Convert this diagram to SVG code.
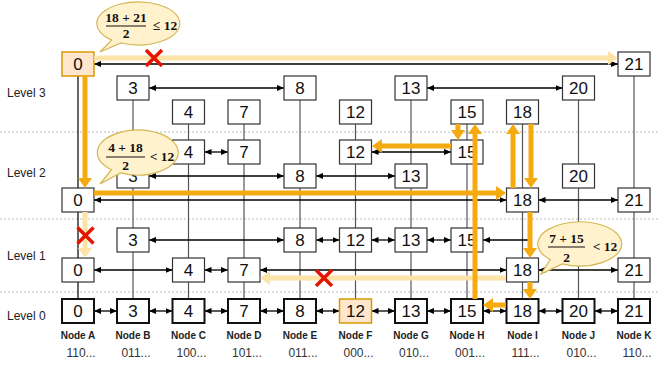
<svg xmlns="http://www.w3.org/2000/svg" width="658" height="368" viewBox="0 0 658 368">
<style>
.bx{fill:#fff;stroke:#333;stroke-width:1.2}
.b0{fill:#fff;stroke:#111;stroke-width:2}
.pk{fill:#ffe6cc;stroke:#d79b00;stroke-width:1.5}
.num{font-family:"Liberation Sans",Arial,sans-serif;font-size:17px;fill:#111;text-anchor:middle}
.lvl{font-family:"Liberation Sans",Arial,sans-serif;font-size:12px;fill:#222}
.nl{font-family:"Liberation Sans",Arial,sans-serif;font-size:10px;font-weight:bold;fill:#222;text-anchor:middle}
.bin{font-family:"Liberation Sans",Arial,sans-serif;font-size:12px;fill:#333;text-anchor:middle}
.col{stroke:#555;stroke-width:1.2;fill:none}
.dash{stroke:#aaa;stroke-width:0.8;stroke-dasharray:2,2}
.ar{stroke:#000;stroke-width:1.3;fill:none;marker-start:url(#ah);marker-end:url(#ah)}
.ar1{stroke:#000;stroke-width:1.3;fill:none;marker-end:url(#ah)}
.os{stroke:#f5ab0f;stroke-width:5;fill:none;marker-end:url(#oa)}
.of{stroke:#fde3a7;stroke-width:5;fill:none;marker-end:url(#of)}
.x{stroke:#e51400;stroke-width:3.5;stroke-linecap:butt}
.co{fill:#fff2cc;stroke:#d6b656;stroke-width:1.2}
.m{font-family:"Liberation Serif","Times New Roman",serif;font-weight:bold;font-size:13.5px;fill:#111;text-anchor:middle}
.bar{stroke:#111;stroke-width:1}
</style>
<defs>
<marker id="ah" viewBox="0 0 8 8" refX="8" refY="4" markerWidth="7" markerHeight="7" orient="auto-start-reverse" markerUnits="userSpaceOnUse"><path d="M0,0.5 L8,4 L0,7.5 z" fill="#000"/></marker>
<marker id="oa" viewBox="0 0 10 14" refX="2" refY="7" markerWidth="10" markerHeight="14" orient="auto" markerUnits="userSpaceOnUse"><path d="M0,0 L10,7 L0,14 z" fill="#f5ab0f"/></marker>
<marker id="of" viewBox="0 0 10 14" refX="2" refY="7" markerWidth="10" markerHeight="14" orient="auto" markerUnits="userSpaceOnUse"><path d="M0,0 L10,7 L0,14 z" fill="#fde3a7"/></marker>
</defs>
<rect width="658" height="368" fill="#fff"/>
<g id="grid">
<line class="dash" x1="0" y1="132" x2="658" y2="132"/>
<line class="dash" x1="0" y1="219" x2="658" y2="219"/>
<line class="dash" x1="0" y1="292" x2="658" y2="292"/>
<text class="lvl" x="7" y="97">Level 3</text>
<text class="lvl" x="7" y="177">Level 2</text>
<text class="lvl" x="7" y="260">Level 1</text>
<text class="lvl" x="7" y="320">Level 0</text>
</g>
<g id="connectors">
<line x1="78" y1="76" x2="78" y2="299" stroke="#000" stroke-width="1.2"/>
<line class="col" x1="133" y1="100" x2="133" y2="299"/>
<line class="col" x1="188.5" y1="124" x2="188.5" y2="299"/>
<line class="col" x1="244" y1="124" x2="244" y2="299"/>
<line class="col" x1="300" y1="100" x2="300" y2="299"/>
<line class="col" x1="355.5" y1="124" x2="355.5" y2="299"/>
<line class="col" x1="411" y1="100" x2="411" y2="299"/>
<line class="col" x1="467" y1="124" x2="467" y2="299"/>
<line class="col" x1="522.5" y1="124" x2="522.5" y2="299"/>
<line class="col" x1="578.5" y1="100" x2="578.5" y2="299"/>
<line class="col" x1="634" y1="76" x2="634" y2="299"/>
<line class="ar" x1="94" y1="64" x2="618" y2="64"/>
<line class="ar" x1="149" y1="88" x2="284" y2="88"/>
<line class="ar" x1="427" y1="88" x2="562.5" y2="88"/>
<line class="ar" x1="204.5" y1="152" x2="228" y2="152"/>
<line class="ar" x1="371.5" y1="152" x2="451" y2="152"/>
<line class="ar" x1="149" y1="176" x2="284" y2="176"/>
<line class="ar" x1="316" y1="176" x2="395" y2="176"/>
<line class="ar" x1="94" y1="200" x2="506.5" y2="200"/>
<line class="ar" x1="538.5" y1="200" x2="618" y2="200"/>
<line class="ar" x1="149" y1="240" x2="284" y2="240"/>
<line class="ar" x1="316" y1="240" x2="339.5" y2="240"/>
<line class="ar" x1="371.5" y1="240" x2="395" y2="240"/>
<line class="ar" x1="427" y1="240" x2="451" y2="240"/>
<line class="ar1" x1="530" y1="240" x2="483" y2="240"/>
<line class="ar" x1="94" y1="270" x2="172.5" y2="270"/>
<line class="ar" x1="204.5" y1="270" x2="228" y2="270"/>
<line class="ar" x1="260" y1="270" x2="506.5" y2="270"/>
<line class="ar" x1="538.5" y1="270" x2="618" y2="270"/>
<line class="ar" x1="94" y1="311" x2="117" y2="311"/>
<line class="ar" x1="149" y1="311" x2="172.5" y2="311"/>
<line class="ar" x1="204.5" y1="311" x2="228" y2="311"/>
<line class="ar" x1="260" y1="311" x2="284" y2="311"/>
<line class="ar" x1="316" y1="311" x2="339.5" y2="311"/>
<line class="ar" x1="371.5" y1="311" x2="395" y2="311"/>
<line class="ar" x1="427" y1="311" x2="451" y2="311"/>
<line class="ar" x1="483" y1="311" x2="506.5" y2="311"/>
<line class="ar" x1="538.5" y1="311" x2="562.5" y2="311"/>
<line class="ar" x1="594.5" y1="311" x2="618" y2="311"/>
</g>
<g id="nodeA">
<rect class="pk" x="62" y="52" width="32" height="24"/><text class="num" x="78" y="70">0</text>
<rect class="bx" x="62" y="188" width="32" height="24"/><text class="num" x="78" y="206">0</text>
<rect class="bx" x="62" y="258" width="32" height="24"/><text class="num" x="78" y="276">0</text>
<rect class="b0" x="62" y="299" width="32" height="24"/><text class="num" x="78" y="317">0</text>
<text class="nl" x="78" y="339">Node A</text><text class="bin" x="81" y="357">110...</text>
</g>
<g id="nodeB">
<rect class="bx" x="117" y="76" width="32" height="24"/><text class="num" x="133" y="94">3</text>
<rect class="bx" x="117" y="164" width="32" height="24"/><text class="num" x="133" y="182">3</text>
<rect class="bx" x="117" y="228" width="32" height="24"/><text class="num" x="133" y="246">3</text>
<rect class="b0" x="117" y="299" width="32" height="24"/><text class="num" x="133" y="317">3</text>
<text class="nl" x="133" y="339">Node B</text><text class="bin" x="136" y="357">011...</text>
</g>
<g id="nodeC">
<rect class="bx" x="172.5" y="100" width="32" height="24"/><text class="num" x="188.5" y="118">4</text>
<rect class="bx" x="172.5" y="140" width="32" height="24"/><text class="num" x="188.5" y="158">4</text>
<rect class="bx" x="172.5" y="258" width="32" height="24"/><text class="num" x="188.5" y="276">4</text>
<rect class="b0" x="172.5" y="299" width="32" height="24"/><text class="num" x="188.5" y="317">4</text>
<text class="nl" x="188.5" y="339">Node C</text><text class="bin" x="191.5" y="357">100...</text>
</g>
<g id="nodeD">
<rect class="bx" x="228" y="100" width="32" height="24"/><text class="num" x="244" y="118">7</text>
<rect class="bx" x="228" y="140" width="32" height="24"/><text class="num" x="244" y="158">7</text>
<rect class="bx" x="228" y="258" width="32" height="24"/><text class="num" x="244" y="276">7</text>
<rect class="b0" x="228" y="299" width="32" height="24"/><text class="num" x="244" y="317">7</text>
<text class="nl" x="244" y="339">Node D</text><text class="bin" x="247" y="357">101...</text>
</g>
<g id="nodeE">
<rect class="bx" x="284" y="76" width="32" height="24"/><text class="num" x="300" y="94">8</text>
<rect class="bx" x="284" y="164" width="32" height="24"/><text class="num" x="300" y="182">8</text>
<rect class="bx" x="284" y="228" width="32" height="24"/><text class="num" x="300" y="246">8</text>
<rect class="b0" x="284" y="299" width="32" height="24"/><text class="num" x="300" y="317">8</text>
<text class="nl" x="300" y="339">Node E</text><text class="bin" x="303" y="357">011...</text>
</g>
<g id="nodeF">
<rect class="bx" x="339.5" y="100" width="32" height="24"/><text class="num" x="355.5" y="118">12</text>
<rect class="bx" x="339.5" y="140" width="32" height="24"/><text class="num" x="355.5" y="158">12</text>
<rect class="bx" x="339.5" y="228" width="32" height="24"/><text class="num" x="355.5" y="246">12</text>
<rect class="pk" x="339.5" y="299" width="32" height="24" stroke-width="2"/><text class="num" x="355.5" y="317">12</text>
<text class="nl" x="355.5" y="339">Node F</text><text class="bin" x="358.5" y="357">000...</text>
</g>
<g id="nodeG">
<rect class="bx" x="395" y="76" width="32" height="24"/><text class="num" x="411" y="94">13</text>
<rect class="bx" x="395" y="164" width="32" height="24"/><text class="num" x="411" y="182">13</text>
<rect class="bx" x="395" y="228" width="32" height="24"/><text class="num" x="411" y="246">13</text>
<rect class="b0" x="395" y="299" width="32" height="24"/><text class="num" x="411" y="317">13</text>
<text class="nl" x="411" y="339">Node G</text><text class="bin" x="414" y="357">010...</text>
</g>
<g id="nodeH">
<rect class="bx" x="451" y="100" width="32" height="24"/><text class="num" x="467" y="118">15</text>
<rect class="bx" x="451" y="140" width="32" height="24"/><text class="num" x="467" y="158">15</text>
<rect class="bx" x="451" y="228" width="32" height="24"/><text class="num" x="467" y="246">15</text>
<rect class="b0" x="451" y="299" width="32" height="24"/><text class="num" x="467" y="317">15</text>
<text class="nl" x="467" y="339">Node H</text><text class="bin" x="470" y="357">001...</text>
</g>
<g id="nodeI">
<rect class="bx" x="506.5" y="100" width="32" height="24"/><text class="num" x="522.5" y="118">18</text>
<rect class="bx" x="506.5" y="188" width="32" height="24"/><text class="num" x="522.5" y="206">18</text>
<rect class="bx" x="506.5" y="258" width="32" height="24"/><text class="num" x="522.5" y="276">18</text>
<rect class="b0" x="506.5" y="299" width="32" height="24"/><text class="num" x="522.5" y="317">18</text>
<text class="nl" x="522.5" y="339">Node I</text><text class="bin" x="525.5" y="357">111...</text>
</g>
<g id="nodeJ">
<rect class="bx" x="562.5" y="76" width="32" height="24"/><text class="num" x="578.5" y="94">20</text>
<rect class="bx" x="562.5" y="164" width="32" height="24"/><text class="num" x="578.5" y="182">20</text>
<rect class="b0" x="562.5" y="299" width="32" height="24"/><text class="num" x="578.5" y="317">20</text>
<text class="nl" x="578.5" y="339">Node J</text><text class="bin" x="581.5" y="357">010...</text>
</g>
<g id="nodeK">
<rect class="bx" x="618" y="52" width="32" height="24"/><text class="num" x="634" y="70">21</text>
<rect class="bx" x="618" y="188" width="32" height="24"/><text class="num" x="634" y="206">21</text>
<rect class="bx" x="618" y="258" width="32" height="24"/><text class="num" x="634" y="276">21</text>
<rect class="b0" x="618" y="299" width="32" height="24"/><text class="num" x="634" y="317">21</text>
<text class="nl" x="634" y="339">Node K</text><text class="bin" x="637" y="357">110...</text>
</g>
<g id="search-path">
<line class="of" x1="94" y1="58" x2="610" y2="58"/>
<line class="os" x1="85" y1="76" x2="85" y2="180"/>
<line class="os" x1="94" y1="193" x2="498" y2="193"/>
<line class="of" x1="85" y1="212" x2="85" y2="250"/>
<line class="os" x1="513" y1="188" x2="513" y2="132"/>
<line class="os" x1="531" y1="124" x2="531" y2="180"/>
<line class="os" x1="530" y1="212" x2="530" y2="250"/>
<line class="os" x1="530" y1="282" x2="530" y2="291"/>
<line class="of" x1="506" y1="278" x2="268" y2="278"/>
<line class="os" x1="506" y1="305" x2="491" y2="305"/>
<line class="os" x1="475" y1="299" x2="475" y2="132"/>
<line class="os" x1="458" y1="124" x2="458" y2="132"/>
<line class="os" x1="451" y1="146" x2="380" y2="146"/>
<path class="x" d="M146,50 L162,66 M162,50 L146,66"/>
<path class="x" d="M77.5,227.5 L93.5,243.5 M93.5,227.5 L77.5,243.5"/>
<path class="x" d="M316,270 L332,286 M332,270 L316,286"/>
</g>
<g id="callout1">
<path class="co" d="M121,43 A41.5 21.5 0 1 0 111.8,40 L100,52 Z"/>
<text class="m" x="126" y="22">18 + 21</text>
<line class="bar" x1="106" y1="26" x2="146" y2="26"/>
<text class="m" x="126" y="38">2</text>
<text class="m" x="165" y="30">≤ 12</text>
</g>
<g id="callout2">
<path class="co" d="M120.4,172.9 A40.5 22.5 0 1 0 111.5,169.7 L100,184 Z"/>
<text class="m" x="125.5" y="152">4 + 18</text>
<line class="bar" x1="106" y1="157" x2="145" y2="157"/>
<text class="m" x="125.5" y="169.5">2</text>
<text class="m" x="162" y="161">&lt; 12</text>
</g>
<g id="callout3">
<path class="co" d="M562.2,263.9 A42 22 0 1 0 550.3,259.6 L541,274 Z"/>
<text class="m" x="566.5" y="243">7 + 15</text>
<line class="bar" x1="548" y1="247" x2="585" y2="247"/>
<text class="m" x="566.5" y="261.5">2</text>
<text class="m" x="605" y="251">&lt; 12</text>
</g>
</svg>
